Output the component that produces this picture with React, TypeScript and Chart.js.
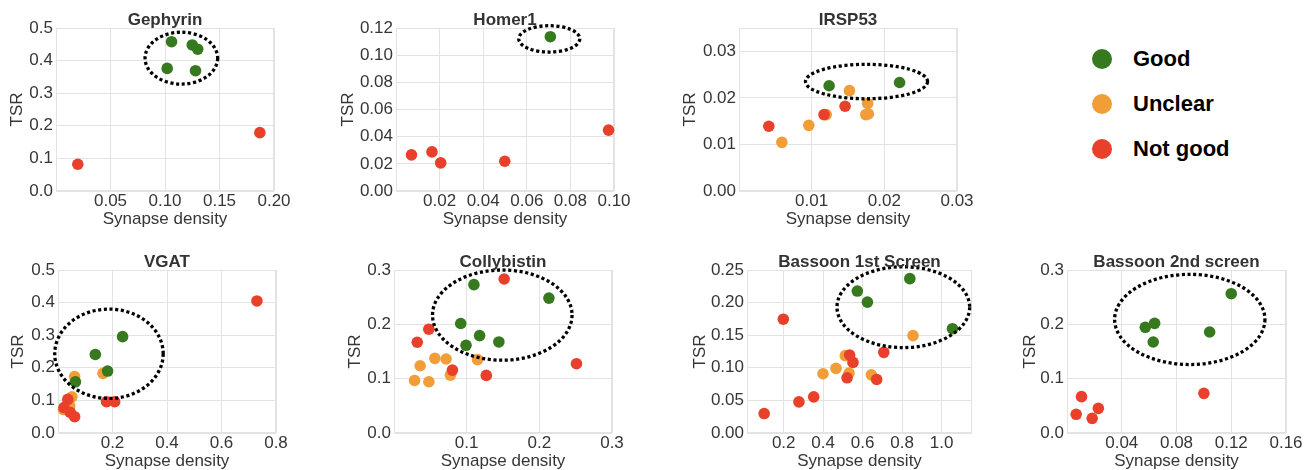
import React, { useEffect, useRef } from "react";
import { Chart, registerables } from "chart.js";

Chart.register(...registerables);

const FONT = "'Liberation Sans', Arial, Helvetica, sans-serif";
Chart.defaults.font.family = FONT;

const GREEN = "#36791f";
const ORANGE = "#f19d38";
const RED = "#e8402a";
const TEXT = "#363636";
const GRID = "#e3e3e3";

const legendLabels = ["Good", "Unclear", "Not good"];
const axisX = "Synapse density";
const axisY = "TSR";

// ---- data: [synapse density, TSR] ----
const gephyrinGood = [[0.106, 0.458], [0.125, 0.448], [0.130, 0.435], [0.102, 0.376], [0.128, 0.369]];
const gephyrinUnclear: number[][] = [];
const gephyrinNotGood = [[0.020, 0.082], [0.187, 0.179]];
const gephyrinCircle = [0.115, 0.4075, 0.0333, 0.0795];

const homerGood = [[0.0708, 0.1136]];
const homerUnclear: number[][] = [];
const homerNotGood = [[0.0071, 0.0266], [0.0165, 0.0288], [0.0205, 0.0207], [0.0499, 0.0219], [0.0975, 0.0448]];
const homerCircle = [0.0703, 0.112, 0.014, 0.0097];

const irspGood = [[0.0124, 0.0226], [0.0221, 0.0233]];
const irspUnclear = [[0.0059, 0.01045], [0.0096, 0.0141], [0.0120, 0.0164], [0.0152, 0.02155], [0.0177, 0.0188], [0.01745, 0.0164], [0.0178, 0.01655]];
const irspNotGood = [[0.0041, 0.0139], [0.0117, 0.0164], [0.0146, 0.0182]];
const irspCircle = [0.01755, 0.0235, 0.0084, 0.0037];

const vgatGood = [[0.237, 0.2955], [0.137, 0.241], [0.182, 0.190], [0.064, 0.157]];
const vgatUnclear = [[0.165, 0.183], [0.061, 0.173], [0.051, 0.111], [0.043, 0.083], [0.020, 0.072]];
const vgatNotGood = [[0.730, 0.405], [0.036, 0.103], [0.022, 0.078], [0.045, 0.063], [0.061, 0.050], [0.178, 0.096], [0.208, 0.096]];
const vgatCircle = [0.187, 0.243, 0.199, 0.137];

const collyGood = [[0.110, 0.273], [0.2132, 0.2483], [0.0918, 0.2015], [0.1178, 0.1793], [0.0991, 0.1614], [0.1443, 0.1676]];
const collyUnclear = [[0.0562, 0.1374], [0.0717, 0.1362], [0.036, 0.1238], [0.115, 0.135], [0.0776, 0.1066], [0.0283, 0.0967], [0.048, 0.0943]];
const collyNotGood = [[0.1516, 0.2834], [0.0479, 0.191], [0.032, 0.167], [0.0804, 0.1158], [0.127, 0.106], [0.2511, 0.1275]];
const collyCircle = [0.149, 0.217, 0.096, 0.083];

const bassoon1Good = [[0.573, 0.2177], [0.624, 0.2007], [0.839, 0.2367], [1.055, 0.160]];
const bassoon1Unclear = [[0.399, 0.0909], [0.465, 0.0991], [0.512, 0.1186], [0.531, 0.0919], [0.644, 0.0893], [0.855, 0.1494]];
const bassoon1NotGood = [[0.101, 0.0298], [0.198, 0.1745], [0.277, 0.0477], [0.352, 0.0554], [0.534, 0.1196], [0.551, 0.1083], [0.521, 0.0847], [0.671, 0.0821], [0.707, 0.1237]];
const bassoon1Circle = [0.806, 0.193, 0.336, 0.062];

const bassoon2Good = [[0.120, 0.2564], [0.0572, 0.1945], [0.064, 0.2018], [0.063, 0.1675], [0.1042, 0.1859]];
const bassoon2Unclear: number[][] = [];
const bassoon2NotGood = [[0.100, 0.073], [0.0106, 0.0669], [0.0067, 0.0344], [0.0184, 0.027], [0.0229, 0.0454]];
const bassoon2Circle = [0.0897, 0.209, 0.0549, 0.083];

// ---- axis ticks ----
const gephyrinXTicks = [0.05, 0.1, 0.15, 0.2];
const gephyrinYTicks = [0, 0.1, 0.2, 0.3, 0.4, 0.5];
const homerXTicks = [0.02, 0.04, 0.06, 0.08, 0.1];
const homerYTicks = [0, 0.02, 0.04, 0.06, 0.08, 0.1, 0.12];
const irspXTicks = [0.01, 0.02, 0.03];
const irspYTicks = [0, 0.01, 0.02, 0.03];
const vgatXTicks = [0.2, 0.4, 0.6, 0.8];
const vgatYTicks = [0, 0.1, 0.2, 0.3, 0.4, 0.5];
const collyXTicks = [0.1, 0.2, 0.3];
const collyYTicks = [0, 0.1, 0.2, 0.3];
const bassoon1XTicks = [0.2, 0.4, 0.6, 0.8, 1.0];
const bassoon1YTicks = [0, 0.05, 0.1, 0.15, 0.2, 0.25];
const bassoon2XTicks = [0.04, 0.08, 0.12, 0.16];
const bassoon2YTicks = [0, 0.1, 0.2, 0.3];

type PanelDef = {
  title: string;
  left: number; // canvas left
  top: number; // canvas top
  yW: number; // y-axis box width
  plotW: number;
  plotH: number;
  xH: number;
  xRange: number[];
  yRange: number[];
  xTicks: number[];
  yTicks: number[];
  xDec: number;
  yDec: number;
  good: number[][];
  unclear: number[][];
  notGood: number[][];
  circle: number[];
};

const PAD_TOP = 28;
const PAD_RIGHT = 22;

const panels: PanelDef[] = [
  { title: "Gephyrin", left: 7, top: 0, yW: 49, plotW: 218, plotH: 163, xH: 39, xRange: [0, 0.2], yRange: [0, 0.5], xTicks: gephyrinXTicks, yTicks: gephyrinYTicks, xDec: 2, yDec: 1, good: gephyrinGood, unclear: gephyrinUnclear, notGood: gephyrinNotGood, circle: gephyrinCircle },
  { title: "Homer1", left: 338, top: 0, yW: 58, plotW: 218, plotH: 163, xH: 39, xRange: [0, 0.1], yRange: [0, 0.12], xTicks: homerXTicks, yTicks: homerYTicks, xDec: 2, yDec: 2, good: homerGood, unclear: homerUnclear, notGood: homerNotGood, circle: homerCircle },
  { title: "IRSP53", left: 680, top: 0, yW: 59, plotW: 218, plotH: 163, xH: 39, xRange: [0, 0.03], yRange: [0, 0.035], xTicks: irspXTicks, yTicks: irspYTicks, xDec: 2, yDec: 2, good: irspGood, unclear: irspUnclear, notGood: irspNotGood, circle: irspCircle },
  { title: "VGAT", left: 8, top: 242, yW: 50, plotW: 218, plotH: 163, xH: 39, xRange: [0, 0.8], yRange: [0, 0.5], xTicks: vgatXTicks, yTicks: vgatYTicks, xDec: 1, yDec: 1, good: vgatGood, unclear: vgatUnclear, notGood: vgatNotGood, circle: vgatCircle },
  { title: "Collybistin", left: 345, top: 242, yW: 49, plotW: 218, plotH: 163, xH: 39, xRange: [0, 0.3], yRange: [0, 0.3], xTicks: collyXTicks, yTicks: collyYTicks, xDec: 1, yDec: 1, good: collyGood, unclear: collyUnclear, notGood: collyNotGood, circle: collyCircle },
  { title: "Bassoon 1st Screen", left: 690, top: 242, yW: 57, plotW: 225, plotH: 163, xH: 39, xRange: [0.014, 1.154], yRange: [0, 0.25], xTicks: bassoon1XTicks, yTicks: bassoon1YTicks, xDec: 1, yDec: 2, good: bassoon1Good, unclear: bassoon1Unclear, notGood: bassoon1NotGood, circle: bassoon1Circle },
  { title: "Bassoon 2nd screen", left: 1020, top: 242, yW: 47, plotW: 219, plotH: 163, xH: 39, xRange: [0, 0.16], yRange: [0, 0.3], xTicks: bassoon2XTicks, yTicks: bassoon2YTicks, xDec: 2, yDec: 1, good: bassoon2Good, unclear: bassoon2Unclear, notGood: bassoon2NotGood, circle: bassoon2Circle },
];

const toPts = (arr: number[][]) => arr.map(([x, y]) => ({ x, y }));

function Panel({ p }: { p: PanelDef }) {
  const ref = useRef<HTMLCanvasElement>(null);
  const w = p.yW + p.plotW + PAD_RIGHT;
  const h = PAD_TOP + p.plotH + p.xH;

  useEffect(() => {
    if (!ref.current) return;
    const ds = (data: number[][], color: string) => ({
      data: toPts(data),
      backgroundColor: color,
      borderColor: color,
      borderWidth: 0,
      pointRadius: 5.8,
      pointHoverRadius: 5.8,
      clip: false as any,
    });
    const deco = {
      id: "deco",
      beforeDatasetsDraw(chart: any) {
        const { ctx, chartArea: a } = chart;
        ctx.save();
        ctx.strokeStyle = GRID;
        ctx.lineWidth = 1;
        ctx.strokeRect(a.left + 0.5, a.top + 0.5, a.right - a.left - 1, a.bottom - a.top - 1);
        ctx.restore();
      },
      afterDatasetsDraw(chart: any) {
        const { ctx, chartArea: a, scales } = chart;
        const [cx, cy, hw, hh] = p.circle;
        const px = scales.x.getPixelForValue(cx);
        const py = scales.y.getPixelForValue(cy);
        const rx = Math.abs(scales.x.getPixelForValue(cx + hw) - px);
        const ry = Math.abs(scales.y.getPixelForValue(cy + hh) - py);
        ctx.save();
        ctx.strokeStyle = "#000";
        ctx.lineWidth = 3.3;
        ctx.setLineDash([3.1, 2.6]);
        ctx.beginPath();
        ctx.ellipse(px, py, rx, ry, 0, 0, Math.PI * 2);
        ctx.stroke();
        ctx.restore();

        ctx.save();
        ctx.fillStyle = "#333";
        ctx.font = `bold 17px ${FONT}`;
        ctx.textAlign = "center";
        ctx.textBaseline = "alphabetic";
        ctx.fillText(p.title, (a.left + a.right) / 2, a.top - 3);
        ctx.restore();
      },
    };
    const tickFont = { size: 17, family: FONT };
    const chart = new Chart(ref.current, {
      type: "scatter",
      data: {
        datasets: [ds(p.good, GREEN), ds(p.notGood, RED), ds(p.unclear, ORANGE)],
      },
      options: {
        animation: false,
        responsive: false,
        maintainAspectRatio: false,
        devicePixelRatio: 1,
        events: [],
        layout: { padding: { top: PAD_TOP, right: PAD_RIGHT, left: 0, bottom: 0 } },
        plugins: {
          legend: { display: false },
          tooltip: { enabled: false },
          title: { display: false },
        },
        scales: {
          x: {
            type: "linear",
            min: p.xRange[0],
            max: p.xRange[1],
            afterBuildTicks: (s: any) => {
              s.ticks = p.xTicks.map((v) => ({ value: v }));
            },
            afterFit: (s: any) => {
              s.height = p.xH;
            },
            grid: { color: GRID, drawTicks: false, lineWidth: 1 },
            border: { display: false },
            ticks: {
              padding: 0,
              color: TEXT,
              font: tickFont,
              maxRotation: 0,
              autoSkip: false,
              callback: (v: any) => Number(v).toFixed(p.xDec),
            },
            title: { display: true, text: axisX, color: TEXT, font: tickFont, padding: 0 },
          },
          y: {
            type: "linear",
            min: p.yRange[0],
            max: p.yRange[1],
            afterBuildTicks: (s: any) => {
              s.ticks = p.yTicks.map((v) => ({ value: v }));
            },
            afterFit: (s: any) => {
              s.width = p.yW;
            },
            grid: { color: GRID, drawTicks: false, lineWidth: 1 },
            border: { display: false },
            ticks: {
              padding: 3,
              color: TEXT,
              font: tickFont,
              autoSkip: false,
              callback: (v: any) => Number(v).toFixed(p.yDec),
            },
            title: { display: true, text: axisY, color: TEXT, font: tickFont, padding: 0 },
          },
        },
      } as any,
      plugins: [deco],
    });
    return () => chart.destroy();
  }, []);

  return (
    <canvas
      ref={ref}
      width={w}
      height={h}
      style={{ position: "absolute", left: p.left, top: p.top, width: w, height: h }}
    />
  );
}

const legendColors = [GREEN, ORANGE, RED];
const legendY = [59, 104, 149];

export default function App() {
  return (
    <div
      style={{
        position: "fixed",
        left: 0,
        top: 0,
        width: 1311,
        height: 470,
        background: "#fff",
        overflow: "hidden",
      }}
    >
      {panels.map((p) => (
        <Panel key={p.title} p={p} />
      ))}
      {legendLabels.map((label, i) => (
        <div key={label}>
          <div
            style={{
              position: "absolute",
              left: 1092,
              top: legendY[i] - 10,
              width: 20,
              height: 20,
              borderRadius: 10,
              background: legendColors[i],
            }}
          />
          <div
            style={{
              position: "absolute",
              left: 1133,
              top: legendY[i] - 11,
              height: 22,
              lineHeight: "22px",
              fontFamily: FONT,
              fontWeight: "bold",
              fontSize: 22,
              color: "#000",
              whiteSpace: "nowrap",
            }}
          >
            {label}
          </div>
        </div>
      ))}
    </div>
  );
}
